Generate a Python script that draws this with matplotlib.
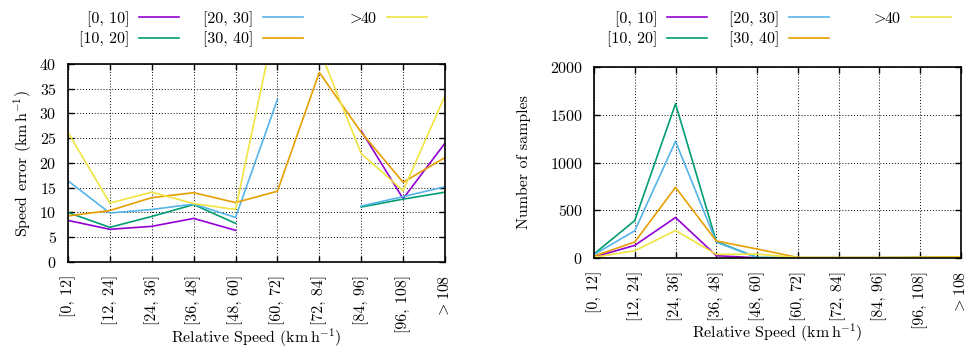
import numpy as np
import matplotlib
matplotlib.use("Agg")
import matplotlib.pyplot as plt

plt.rcParams["font.family"] = "cmr10"
plt.rcParams["mathtext.fontset"] = "cm"
plt.rcParams["axes.unicode_minus"] = False
plt.rcParams["axes.formatter.use_mathtext"] = True
plt.rcParams["font.size"] = 11.5

#categories and series
speed_bins = ["[0, 12]", "[12, 24]", "[24, 36]", "[36, 48]", "[48, 60]",
              "[60, 72]", "[72, 84]", "[84, 96]", "[96, 108]", "$>108$"]
group_labels = ["[0, 10]", "[10, 20]", "[20, 30]", "[30, 40]", r"$\!>\!\!$40"]
colors = ["#9400D3", "#009E73", "#56B4E9", "#E69F00", "#F0E442"]

nan = np.nan
#speed error (km/h), gaps where no data
err_0_10 = [8.4, 6.6, 7.2, 8.8, 6.4, nan, nan, 26.5, 12.8, 24.0]
err_10_20 = [10.0, 7.0, 9.2, 11.6, 7.8, nan, nan, 11.1, 12.7, 14.1]
err_20_30 = [16.4, 9.9, 10.6, 11.7, 9.0, 32.8, nan, 11.3, 13.2, 15.2]
err_30_40 = [9.3, 10.4, 13.0, 14.0, 12.0, 14.3, 38.3, 26.2, 16.1, 21.1]
err_40 = [26.2, 11.9, 14.1, 11.8, 10.6, 50.5, 43.0, 21.9, 14.4, 33.6]

#number of samples
n_0_10 = [10, 132, 424, 24, 2, 1, 1, 1, 2, 3]
n_10_20 = [42, 392, 1615, 172, 5, 3, 3, 3, 5, 8]
n_20_30 = [35, 285, 1222, 165, 4, 2, 2, 2, 3, 5]
n_30_40 = [20, 167, 740, 178, 94, 5, 5, 5, 8, 12]
n_40 = [7, 76, 288, 38, 40, 5, 3, 3, 5, 8]

err_series = [err_0_10, err_10_20, err_20_30, err_30_40, err_40]
n_series = [n_0_10, n_10_20, n_20_30, n_30_40, n_40]

fig = plt.figure(figsize=(9.68, 3.51), dpi=100)
ax1 = fig.add_axes([0.0702, 0.2536, 0.3895, 0.5641])
ax2 = fig.add_axes([0.6136, 0.265, 0.3792, 0.544])

x = np.arange(len(speed_bins))


def style_axes(ax, label_y):
    ax.set_xlim(0, len(speed_bins) - 1)
    ax.set_xticks(x)
    ax.set_xticklabels(speed_bins, rotation=90)
    ax.grid(True, color="black", linestyle=(0, (1, 2)), linewidth=0.7)
    ax.tick_params(direction="in", length=4, width=1, top=True, right=True)
    ax.tick_params(axis="y", pad=8)
    ax.tick_params(axis="x", pad=9)
    for s in ax.spines.values():
        s.set_linewidth(1.2)
    ax.set_xlabel(r"Relative Speed $(\mathrm{km\,h^{-1}})$", va="center")
    ax.xaxis.set_label_coords(0.5, label_y)


lines1 = []
for vals, c, lab in zip(err_series, colors, group_labels):
    l, = ax1.plot(x, vals, color=c, linewidth=1.2, label=lab)
    lines1.append(l)
style_axes(ax1, -0.385)
ax1.set_ylim(0, 40)
ax1.set_yticks(np.arange(0, 41, 5))
ax1.set_ylabel(r"Speed error $(\mathrm{km\,h^{-1}})$", labelpad=4)

lines2 = []
for vals, c, lab in zip(n_series, colors, group_labels):
    l, = ax2.plot(x, vals, color=c, linewidth=1.2, label=lab)
    lines2.append(l)
style_axes(ax2, -0.39)
ax2.set_ylim(0, 2000)
ax2.set_yticks(np.arange(0, 2001, 500))
ax2.set_ylabel("Number of samples", labelpad=13)

#legends: one per column, lines to the right of labels
cols = [[0, 1], [2, 3], [4]]
left_ends = [182, 306, 430]
right_ends = [710, 832, 954]
for lines, ends in [(lines1, left_ends), (lines2, right_ends)]:
    for idx, xe in zip(cols, ends):
        fig.legend([lines[i] for i in idx], [group_labels[i] for i in idx],
                   loc="upper right", bbox_to_anchor=(xe / 968, 0.977),
                   frameon=False, markerfirst=False, handlelength=2.5,
                   handletextpad=0.6, labelspacing=0.3, borderpad=0.2,
                   borderaxespad=0.0)

fig.savefig("out.png", dpi=100)
